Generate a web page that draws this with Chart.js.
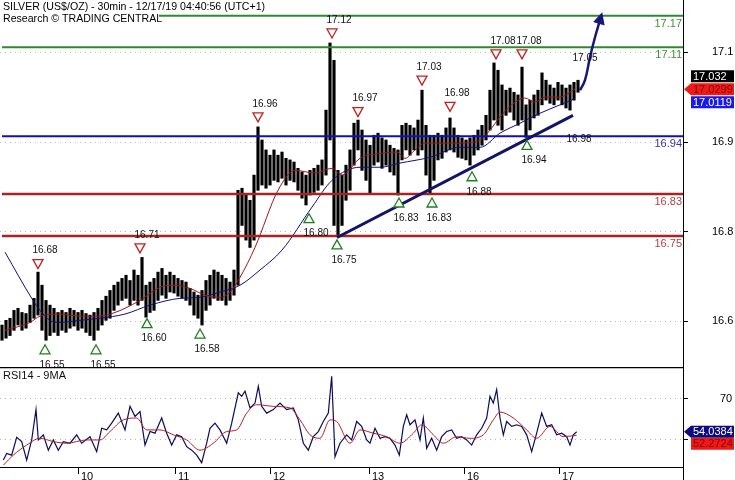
<!DOCTYPE html>
<html>
<head>
<meta charset="utf-8">
<script src="https://cdn.jsdelivr.net/npm/chart.js@4/dist/chart.umd.min.js"></script>
<style>
    html, body { margin: 0; padding: 0; background: #fff; }
    #wrap { position: relative; width: 735px; height: 480px; overflow: hidden; }
    #priceBox { position: absolute; left: 0; top: 0; width: 735px; height: 367px; }
    #rsiBox { position: absolute; left: 0; top: 367px; width: 735px; height: 113px; }
</style>
</head>
<body>
<div id="wrap">
    <div id="priceBox"><canvas id="priceChart"></canvas></div>
    <div id="rsiBox"><canvas id="rsiChart"></canvas></div>
</div>
<script>
// Hourly high / low of the 30min silver chart, one value per hour from Dec 9 ~04:30
const highs = [
    16.580, 16.589, 16.593, 16.608, 16.612, 16.604, 16.602, 16.618, 16.631, 16.681,
    16.656, 16.627, 16.618, 16.612, 16.604, 16.608, 16.604, 16.612, 16.608, 16.604,
    16.608, 16.602, 16.599, 16.604, 16.612, 16.627, 16.635, 16.646, 16.656, 16.662,
    16.669, 16.675, 16.665, 16.685, 16.675, 16.709, 16.656, 16.662, 16.669, 16.681,
    16.688, 16.675, 16.681, 16.675, 16.669, 16.665, 16.662, 16.650, 16.643, 16.637,
    16.646, 16.665, 16.675, 16.685, 16.681, 16.675, 16.669, 16.662, 16.685, 16.837,
    16.841, 16.828, 16.818, 16.866, 16.958, 16.933, 16.914, 16.904, 16.914, 16.904,
    16.910, 16.898, 16.895, 16.891, 16.879, 16.872, 16.866, 16.875, 16.879, 16.885,
    16.895, 16.990, 17.118, 17.085, 16.875, 16.866, 16.885, 16.914, 16.965, 16.971,
    16.952, 16.933, 16.923, 16.942, 16.946, 16.937, 16.933, 16.923, 16.917, 16.914,
    16.961, 16.965, 16.961, 16.956, 16.971, 17.028, 16.961, 16.942, 16.942, 16.946,
    16.942, 16.956, 16.975, 16.956, 16.942, 16.937, 16.933, 16.937, 16.942, 16.952,
    16.961, 16.980, 17.028, 17.080, 17.066, 17.038, 17.028, 17.032, 17.024, 17.019,
    17.072, 17.000, 17.009, 17.019, 17.028, 17.061, 17.047, 17.038, 17.032, 17.043,
    17.038, 17.032, 17.038, 17.043, 17.047
];
const lows = [
    16.551, 16.555, 16.560, 16.570, 16.580, 16.570, 16.574, 16.585, 16.593, 16.599,
    16.570, 16.551, 16.560, 16.566, 16.560, 16.570, 16.566, 16.574, 16.578, 16.570,
    16.574, 16.566, 16.560, 16.551, 16.570, 16.580, 16.589, 16.593, 16.608, 16.618,
    16.627, 16.631, 16.618, 16.627, 16.618, 16.627, 16.595, 16.604, 16.608, 16.627,
    16.637, 16.631, 16.643, 16.641, 16.635, 16.631, 16.627, 16.618, 16.599, 16.593,
    16.580, 16.608, 16.618, 16.631, 16.627, 16.627, 16.618, 16.627, 16.637, 16.656,
    16.770, 16.742, 16.728, 16.742, 16.837, 16.847, 16.841, 16.847, 16.856, 16.853,
    16.860, 16.847, 16.856, 16.853, 16.837, 16.822, 16.809, 16.828, 16.833, 16.837,
    16.847, 16.866, 16.933, 16.770, 16.749, 16.770, 16.818, 16.837, 16.885, 16.914,
    16.875, 16.856, 16.832, 16.885, 16.891, 16.879, 16.885, 16.872, 16.866, 16.828,
    16.895, 16.914, 16.904, 16.914, 16.904, 16.914, 16.866, 16.832, 16.856, 16.895,
    16.898, 16.910, 16.914, 16.910, 16.900, 16.898, 16.895, 16.885, 16.904, 16.914,
    16.923, 16.933, 16.952, 16.971, 16.961, 16.952, 16.980, 16.986, 16.971, 16.961,
    16.971, 16.938, 16.952, 16.975, 16.980, 17.000, 17.009, 17.003, 17.000, 17.009,
    17.000, 16.994, 16.990, 17.009, 17.024
];

// Moving averages (hours from chart start, price)
const redMAHours = [1.25, 7.5, 10, 15, 20, 25, 28.75, 31.25, 35, 40, 43.75, 47.5, 51.25, 55, 57.5, 60, 63.75, 69.5, 73.75, 78.75, 83, 85.5, 90, 95.75, 99.25, 101.25, 103.75, 106.25, 110, 115, 120, 122.5, 125, 128.75, 131.25, 133.75, 136.25, 140, 143.75];
const redMA = [16.570, 16.585, 16.597, 16.601, 16.597, 16.597, 16.604, 16.612, 16.627, 16.652, 16.656, 16.650, 16.637, 16.633, 16.643, 16.671, 16.728, 16.837, 16.875, 16.870, 16.879, 16.866, 16.898, 16.908, 16.910, 16.898, 16.914, 16.927, 16.927, 16.927, 16.933, 16.952, 16.977, 17.005, 17.013, 17.005, 17.015, 17.015, 17.030];
const blueMAHours = [1.25, 8.25, 10, 12.5, 15, 20, 25, 31.25, 37.5, 45, 50, 55, 60, 65, 70.5, 78, 83, 90, 95, 100, 107.5, 115, 120, 125, 130, 135, 140, 143.75];
const blueMA = [16.719, 16.627, 16.608, 16.589, 16.585, 16.589, 16.593, 16.601, 16.618, 16.631, 16.633, 16.643, 16.656, 16.685, 16.723, 16.805, 16.856, 16.881, 16.881, 16.889, 16.900, 16.919, 16.919, 16.946, 16.965, 16.984, 17.000, 17.012];

// Support / resistance levels
const levelValues = [17.17, 17.11, 16.94, 16.83, 16.75];
const levelColors = ['#2f8a2f', '#2f8a2f', '#1010b8', '#a82424', '#a82424'];
const levelTextColors = ['#3f8f3f', '#3f8f3f', '#3535a5', '#b54040', '#b54040'];

// Trend line and projected arrow
const trendHours = [84.25, 143.25];
const trendValues = [16.747, 16.98];
const arrowHours = [145, 146.25, 147.5, 148.75, 150];
const arrowValues = [17.028, 17.047, 17.091, 17.129, 17.162];

// Pivot highs / lows
const highMarkHours = [9.5, 35, 64.5, 83, 89.5, 105.5, 112.5, 124, 130.5];
const highMarkValues = [16.68, 16.71, 16.96, 17.12, 16.97, 17.03, 16.98, 17.08, 17.08];
const lowMarkHours = [11.25, 24, 36.75, 50, 77.25, 84.25, 99.75, 108, 118, 131.75];
const lowMarkValues = [16.55, 16.55, 16.60, 16.58, 16.80, 16.75, 16.83, 16.83, 16.88, 16.94];

// Free text notes on the price panel
const noteHours = [144.75, 146.25];
const noteValues = [16.935, 17.089];
const noteTexts = ['16.98', '17.05'];

// Last values shown on the right
const lastClose = 17.032;
const lastRedMA = 17.0299;
const lastBlueMA = 17.0119;
const lastRSI = 54.0384;
const lastRSIMA = 52.2724;

// RSI14 and its 9MA
const rsiHours = [0.83, 1.67, 2.92, 4.17, 5.42, 6.67, 7.92, 9.0, 9.58, 10.83, 12.08, 13.33, 14.58, 15.83, 17.5, 19.17, 20.42, 22.5, 24.17, 25.42, 26.67, 27.92, 29.58, 31.25, 32.5, 33.75, 35, 36.25, 37.5, 38.75, 40.42, 41.67, 42.92, 44.17, 45.42, 46.67, 47.92, 49.17, 50.42, 51.67, 52.5, 53.75, 55, 56.67, 57.92, 59.58, 60.42, 61.25, 62.5, 63.75, 64.58, 65.42, 66.67, 68.33, 70, 71.67, 73.33, 74.58, 75.83, 77.08, 78.33, 79.58, 80.83, 82.08, 82.92, 83.75, 85, 86.67, 87.92, 89.17, 90.42, 91.67, 92.5, 93.75, 95, 96.25, 97.5, 98.75, 99.83, 100.83, 101.67, 102.5, 103.75, 105, 105.83, 106.67, 107.92, 109.17, 110.42, 111.67, 112.92, 114.17, 115.42, 116.67, 117.92, 119.17, 120.42, 121.67, 122.5, 123.33, 124.17, 125, 125.83, 126.67, 127.92, 129.17, 130.42, 131.67, 132.92, 134.17, 135.42, 136.67, 137.92, 139.17, 140.42, 141.67, 142.5, 143.33, 144.17];
const rsiValues = [40.2, 43.4, 42.6, 51.3, 49.2, 40.2, 50, 64.8, 50, 52.5, 45, 50, 45, 49.2, 48.4, 52.5, 48.4, 51.6, 44.3, 55.7, 54.9, 58.2, 63.1, 54.9, 66.4, 61.5, 63.9, 47.5, 54.1, 53.3, 60.7, 53.3, 47.5, 52.5, 51.6, 46.7, 45, 42.6, 38.9, 48.4, 55.7, 58.2, 54.9, 48.4, 58.2, 73, 71.3, 73.8, 65.6, 68, 76.2, 66.4, 63.1, 64.8, 68, 64.8, 65.6, 59.8, 48.4, 45, 51.6, 54.1, 59, 63.1, 81.1, 41.8, 48.4, 52.5, 50, 59, 56.6, 50, 48.4, 55.7, 50.8, 51.6, 50.8, 47.5, 42.6, 56.6, 62.3, 57.4, 59.8, 50, 60.7, 45.9, 50.8, 45, 51.6, 54.1, 54.9, 50.8, 51.6, 50, 47.5, 52.5, 55.7, 60.7, 71.3, 68, 74.6, 60.7, 52.5, 59, 56.6, 57.4, 56.6, 52.5, 44.3, 53.3, 63.1, 56.6, 57.4, 52.5, 53.3, 51.6, 47.5, 52.5, 54.0];
const rsiMAHours = [0.83, 3.33, 6.67, 10, 13.33, 16.67, 21.67, 25, 27.5, 30.83, 34.17, 36.67, 40, 43.33, 46.67, 50, 53.33, 56.67, 59.17, 61.67, 64.17, 68.33, 72.5, 75, 77.5, 80, 82.5, 84.17, 87.5, 90, 93.33, 96.67, 100, 103.33, 105.42, 108.33, 110.83, 114.17, 117.5, 120.83, 123.33, 125, 128.33, 131.67, 134.17, 137.5, 140.83, 144.17];
const rsiMA = [37.7, 42.6, 47.5, 50.8, 49.2, 48.4, 50, 50, 54.1, 59.8, 60.7, 54.9, 54.9, 52.5, 50, 45, 48.4, 54.1, 54.9, 63.1, 67.2, 66.4, 65.6, 59.8, 52.5, 50.8, 59.8, 59, 48.4, 54.9, 53.3, 51.6, 48.4, 53.3, 57.4, 52.5, 48.4, 51.6, 50.8, 52.5, 59.8, 63.6, 60.7, 54.9, 50.8, 56.6, 51.6, 52.3];

// Axes
const priceTicks = [17.1, 16.929, 16.758, 16.587];
const rsiTicks = [70, 50];
const dayTickHours = [19.5, 43.75, 67.5, 92.25, 116, 139.75];
const dayLabels = ['10', '11', '12', '13', '16', '17'];
const xMax = 170.75;

const FONT = '"Liberation Sans", Arial, sans-serif';
const pts = (xs, ys) => xs.map((x, i) => ({ x: x, y: ys[i] }));

function drawTag(ctx, x, yc, text, bg, fg, pointer) {
    const w = 43;
    ctx.fillStyle = bg;
    ctx.beginPath();
    if (pointer) {
        ctx.moveTo(x - 7, yc);
        ctx.lineTo(x, yc - 6);
        ctx.lineTo(x + w, yc - 6);
        ctx.lineTo(x + w, yc + 6);
        ctx.lineTo(x, yc + 6);
    } else {
        ctx.rect(x, yc - 6, w, 12);
    }
    ctx.closePath();
    ctx.fill();
    ctx.fillStyle = fg;
    ctx.font = '11px ' + FONT;
    ctx.textAlign = 'left';
    ctx.textBaseline = 'middle';
    ctx.fillText(text, x + 2, yc + 0.5);
}

// Draws the labels, pivots, header and value tags on the price panel
const priceOverlay = {
    id: 'priceOverlay',
    afterDatasetsDraw(chart) {
        const { ctx, chartArea, scales: { x, y } } = chart;
        ctx.save();

        // level labels, right aligned just under each line
        ctx.font = '11px ' + FONT;
        ctx.textAlign = 'right';
        ctx.textBaseline = 'middle';
        levelValues.forEach((v, i) => {
            ctx.fillStyle = levelTextColors[i];
            ctx.fillText(v.toFixed(2), chartArea.right - 1, y.getPixelForValue(v) + 8);
        });

        // pivot highs: red down triangles
        ctx.font = '10px ' + FONT;
        ctx.textAlign = 'center';
        ctx.lineWidth = 1.3;
        highMarkHours.forEach((h, i) => {
            const cx = x.getPixelForValue(h);
            const cy = y.getPixelForValue(highMarkValues[i]) - 9;
            ctx.strokeStyle = '#c42020';
            ctx.fillStyle = '#fff';
            ctx.beginPath();
            ctx.moveTo(cx - 5, cy - 4);
            ctx.lineTo(cx + 5, cy - 4);
            ctx.lineTo(cx, cy + 5);
            ctx.closePath();
            ctx.fill();
            ctx.stroke();
            ctx.fillStyle = '#111';
            ctx.fillText(highMarkValues[i].toFixed(2), cx + 7, cy - 13);
        });

        // pivot lows: green up triangles
        lowMarkHours.forEach((h, i) => {
            const cx = x.getPixelForValue(h);
            const cy = y.getPixelForValue(lowMarkValues[i]) + 9;
            ctx.strokeStyle = '#1f7f1f';
            ctx.fillStyle = '#fff';
            ctx.beginPath();
            ctx.moveTo(cx, cy - 5);
            ctx.lineTo(cx + 5, cy + 4);
            ctx.lineTo(cx - 5, cy + 4);
            ctx.closePath();
            ctx.fill();
            ctx.stroke();
            ctx.fillStyle = '#111';
            ctx.fillText(lowMarkValues[i].toFixed(2), cx + 7, cy + 15);
        });

        // free notes
        noteHours.forEach((h, i) => {
            ctx.fillStyle = '#111';
            ctx.fillText(noteTexts[i], x.getPixelForValue(h), y.getPixelForValue(noteValues[i]));
        });

        // arrow head at the end of the projection
        const meta = chart.getDatasetMeta(1);
        const n = meta.data.length;
        const p1 = meta.data[n - 2], p2 = meta.data[n - 1];
        let dx = p2.x - p1.x, dy = p2.y - p1.y;
        const len = Math.hypot(dx, dy);
        dx /= len; dy /= len;
        ctx.fillStyle = '#17177a';
        ctx.beginPath();
        ctx.moveTo(p2.x + dx * 8, p2.y + dy * 8);
        ctx.lineTo(p2.x - dx * 4 - dy * 6, p2.y - dy * 4 + dx * 6);
        ctx.lineTo(p2.x - dx * 4 + dy * 6, p2.y - dy * 4 - dx * 6);
        ctx.closePath();
        ctx.fill();

        // header
        ctx.fillStyle = '#fff';
        ctx.fillRect(0, 0, 266, 13);
        ctx.fillRect(0, 13, 159, 13);
        ctx.fillStyle = '#000';
        ctx.font = '10.6px ' + FONT;
        ctx.textAlign = 'left';
        ctx.textBaseline = 'middle';
        ctx.fillText('SILVER (US$/OZ) - 30min - 12/17/19 04:40:56 (UTC+1)', 3, 7);
        ctx.fillText('Research \u00A9 TRADING CENTRAL', 3, 19);

        // last value tags
        const ry = y.getPixelForValue(lastRedMA);
        drawTag(ctx, 691, ry - 13, lastClose.toFixed(3), '#000', '#fff', false);
        drawTag(ctx, 691, ry, lastRedMA.toFixed(4), '#ee1a1a', '#8a0000', true);
        drawTag(ctx, 691, ry + 13, lastBlueMA.toFixed(4), '#1a1ae8', '#fff', false);
        ctx.restore();
    }
};

const rsiOverlay = {
    id: 'rsiOverlay',
    afterDatasetsDraw(chart) {
        const { ctx, chartArea, scales: { y } } = chart;
        ctx.save();
        ctx.strokeStyle = '#000';
        ctx.lineWidth = 1.5;
        ctx.beginPath();
        ctx.moveTo(0, chartArea.top + 0.5);
        ctx.lineTo(chartArea.right, chartArea.top + 0.5);
        ctx.stroke();
        ctx.lineWidth = 1;
        ctx.beginPath();
        ctx.moveTo(chartArea.right + 0.5, chartArea.bottom);
        ctx.lineTo(chartArea.right + 0.5, chart.height);
        ctx.stroke();

        ctx.fillStyle = '#111';
        ctx.font = '11px ' + FONT;
        ctx.textAlign = 'left';
        ctx.textBaseline = 'middle';
        ctx.fillText('RSI14 - 9MA', 3, 9);

        const by = y.getPixelForValue(lastRSI);
        drawTag(ctx, 691, by, lastRSI.toFixed(4), '#0c0c80', '#fff', true);
        drawTag(ctx, 691, by + 12, lastRSIMA.toFixed(4), '#ee1a1a', '#8a0000', false);
        ctx.restore();
    }
};

const priceBars = highs.map((hi, i) => ({ x: i + 0.5, y: [lows[i], hi] }));

const levelSets = levelValues.map((v, i) => ({
    type: 'line',
    data: [{ x: 0.5, y: v }, { x: xMax, y: v }],
    borderColor: levelColors[i],
    borderWidth: i > 2 ? 2.5 : 2,
    pointRadius: 0,
    order: 2
}));

const noHover = { legend: { display: false }, tooltip: { enabled: false } };

new Chart(document.getElementById('priceChart'), {
    type: 'line',
    data: {
        datasets: [
            { type: 'line', data: pts(trendHours, trendValues), borderColor: '#141466', borderWidth: 3, pointRadius: 0, order: 1 },
            { type: 'line', data: pts(arrowHours, arrowValues), borderColor: '#17177a', borderWidth: 2.5, pointRadius: 0, tension: 0.4, order: 0 },
            ...levelSets,
            { type: 'line', data: pts(redMAHours, redMA), borderColor: '#a01515', borderWidth: 1, pointRadius: 0, cubicInterpolationMode: 'monotone', order: 3 },
            { type: 'line', data: pts(blueMAHours, blueMA), borderColor: '#10107a', borderWidth: 1, pointRadius: 0, cubicInterpolationMode: 'monotone', order: 3 },
            { type: 'bar', data: priceBars, backgroundColor: '#000', barThickness: 2.5, order: 4 }
        ]
    },
    options: {
        responsive: true,
        maintainAspectRatio: false,
        animation: false,
        devicePixelRatio: 1,
        layout: { padding: 0 },
        plugins: noHover,
        scales: {
            x: { type: 'linear', min: 0, max: xMax, offset: false, display: false },
            y: {
                position: 'right',
                min: 16.5,
                max: 17.2,
                afterBuildTicks: s => { s.ticks = priceTicks.map(v => ({ value: v })); },
                afterFit: s => { s.width = 52; s.paddingTop = 0; s.paddingBottom = 0; },
                ticks: { callback: v => v.toFixed(1), color: '#000', padding: 24, font: { size: 11, family: FONT } },
                grid: { color: '#b8b8b8', tickColor: '#000', tickLength: 5 },
                border: { color: '#000', width: 1, dash: [1, 4] }
            }
        }
    },
    plugins: [priceOverlay]
});

new Chart(document.getElementById('rsiChart'), {
    type: 'line',
    data: {
        datasets: [
            { data: pts(rsiMAHours, rsiMA), borderColor: '#b42222', borderWidth: 1, pointRadius: 0, cubicInterpolationMode: 'monotone' },
            { data: pts(rsiHours, rsiValues), borderColor: '#0c0c5c', borderWidth: 1.2, pointRadius: 0 }
        ]
    },
    options: {
        responsive: true,
        maintainAspectRatio: false,
        animation: false,
        devicePixelRatio: 1,
        layout: { padding: 0 },
        plugins: noHover,
        scales: {
            x: {
                type: 'linear', min: 0, max: xMax, offset: false,
                afterBuildTicks: s => { s.ticks = dayTickHours.map(v => ({ value: v })); },
                afterFit: s => { s.height = 13; s.paddingLeft = 0; s.paddingRight = 0; },
                ticks: { callback: (v, i) => dayLabels[i], align: 'start', labelOffset: 3, padding: -4, autoSkip: false, maxRotation: 0, color: '#000', font: { size: 11, family: FONT } },
                grid: { drawOnChartArea: false, color: '#000', tickColor: '#000', tickLength: 7 },
                border: { color: '#000', width: 1 }
            },
            y: {
                position: 'right',
                min: 36.8,
                max: 85.6,
                afterBuildTicks: s => { s.ticks = rsiTicks.map(v => ({ value: v })); },
                afterFit: s => { s.width = 52; s.paddingTop = 0; s.paddingBottom = 0; },
                ticks: { color: '#000', padding: 32, font: { size: 11, family: FONT } },
                grid: { color: '#b8b8b8', tickColor: '#000', tickLength: 5 },
                border: { color: '#000', width: 1, dash: [1, 4] }
            }
        }
    },
    plugins: [rsiOverlay]
});
</script>
</body>
</html>
